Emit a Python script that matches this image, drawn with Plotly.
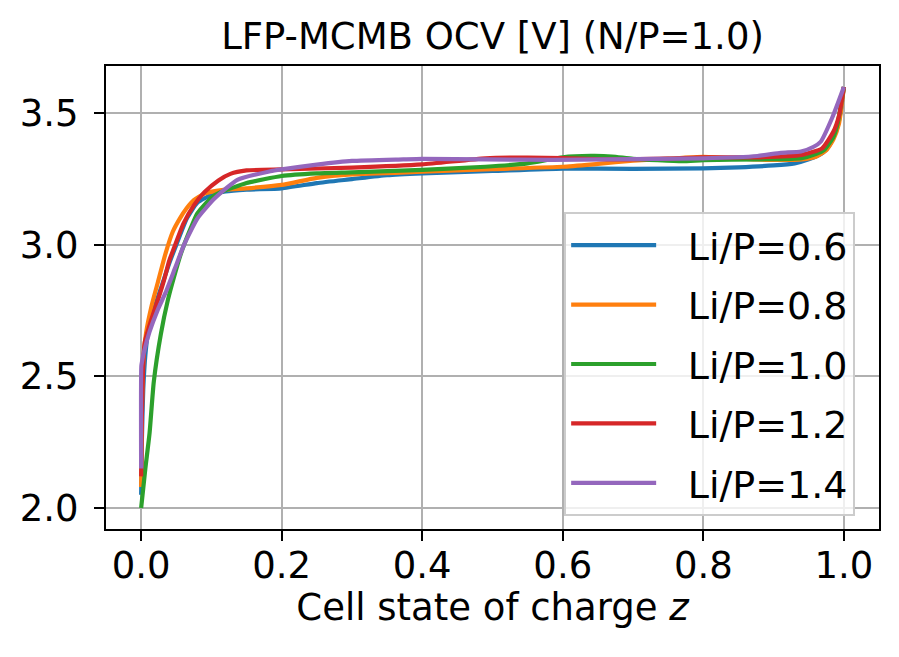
import plotly.graph_objects as go

# Li/P = 0.6
z_06 = [0, 0.001, 0.003, 0.006, 0.01, 0.02, 0.03, 0.04, 0.05, 0.065, 0.08, 0.1, 0.12, 0.15,
        0.2, 0.25, 0.3, 0.35, 0.4, 0.5, 0.6, 0.7, 0.8, 0.85, 0.9, 0.93, 0.95, 0.97, 0.98, 0.99, 0.995, 1.0]
v_06 = [2.05, 2.25, 2.45, 2.58, 2.67, 2.77, 2.85, 2.93, 3.0, 3.1, 3.16, 3.19, 3.203, 3.21,
        3.215, 3.235, 3.25, 3.265, 3.272, 3.281, 3.29, 3.289, 3.291, 3.295, 3.302, 3.31, 3.325, 3.35, 3.38, 3.44, 3.5, 3.6]

# Li/P = 0.8
z_08 = [0, 0.001, 0.003, 0.007, 0.015, 0.024, 0.035, 0.045, 0.055, 0.065, 0.075, 0.09, 0.12, 0.15, 0.2,
        0.25, 0.3, 0.4, 0.5, 0.6, 0.65, 0.7, 0.75, 0.8, 0.85, 0.9, 0.94, 0.96, 0.975, 0.985, 0.993, 1.0]
v_08 = [2.08, 2.35, 2.55, 2.665, 2.77, 2.86, 2.97, 3.05, 3.1, 3.14, 3.17, 3.195, 3.21, 3.215, 3.228,
        3.255, 3.268, 3.278, 3.288, 3.297, 3.308, 3.32, 3.328, 3.335, 3.328, 3.323, 3.325, 3.335, 3.36, 3.4, 3.46, 3.6]

# Li/P = 1.0
z_10 = [0, 0.006, 0.012, 0.018, 0.028, 0.038, 0.047, 0.057, 0.07, 0.08, 0.1, 0.113, 0.15, 0.2,
        0.25, 0.3, 0.4, 0.49, 0.55, 0.6, 0.64, 0.67, 0.7, 0.77, 0.8, 0.88, 0.94, 0.96, 0.972, 0.985, 0.991, 1.0]
v_10 = [2.0, 2.15, 2.285, 2.48, 2.66, 2.79, 2.88, 2.97, 3.06, 3.12, 3.18, 3.2, 3.235, 3.262,
        3.272, 3.276, 3.285, 3.297, 3.31, 3.333, 3.338, 3.336, 3.327, 3.318, 3.322, 3.325, 3.33, 3.345, 3.361, 3.41, 3.46, 3.6]

# Li/P = 1.2
z_12 = [0, 0.001, 0.003, 0.005, 0.015, 0.025, 0.033, 0.04, 0.047, 0.06, 0.075, 0.09, 0.11, 0.127, 0.15,
        0.2, 0.3, 0.4, 0.49, 0.55, 0.6, 0.67, 0.75, 0.8, 0.88, 0.94, 0.969, 0.985, 0.993, 1.0]
v_12 = [2.12, 2.35, 2.55, 2.628, 2.72, 2.8, 2.87, 2.94, 2.99, 3.08, 3.15, 3.2, 3.245, 3.27, 3.283,
        3.287, 3.294, 3.306, 3.329, 3.332, 3.33, 3.325, 3.328, 3.333, 3.333, 3.342, 3.367, 3.43, 3.49, 3.6]

# Li/P = 1.4
z_14 = [0, 0.0003, 0.0015, 0.0047, 0.012, 0.0236, 0.035, 0.048, 0.061, 0.08, 0.104, 0.137, 0.184, 0.2,
        0.25, 0.3, 0.373, 0.4, 0.49, 0.585, 0.665, 0.8, 0.877, 0.91, 0.939, 0.957, 0.967, 0.984, 1.0]
v_14 = [2.15, 2.54, 2.56, 2.6, 2.67, 2.753, 2.82, 2.91, 3.0, 3.1, 3.175, 3.247, 3.28, 3.287,
        3.305, 3.319, 3.325, 3.327, 3.325, 3.323, 3.325, 3.329, 3.338, 3.35, 3.355, 3.373, 3.392, 3.487, 3.6]

names = ['Li/P=0.6', 'Li/P=0.8', 'Li/P=1.0', 'Li/P=1.2', 'Li/P=1.4']
series_z = [z_06, z_08, z_10, z_12, z_14]
series_v = [v_06, v_08, v_10, v_12, v_14]
colors = ['#1f77b4', '#ff7f0e', '#2ca02c', '#d62728', '#9467bd']

FONT = 'DejaVu Sans'
GAP = '\u2002\u2009'  # extra room between legend line and label, like matplotlib

fig = go.Figure()
for name, z, v, c in zip(names, series_z, series_v, colors):
    fig.add_trace(go.Scatter(x=z, y=v, mode='lines', name=GAP + name, legendgroup=name,
                             line=dict(color=c, width=4.2, shape='spline', smoothing=0.5)))

axis_style = dict(showline=True, linecolor='black', linewidth=2.2, mirror=True,
                  ticks='outside', ticklen=10, tickwidth=2.2, tickcolor='black',
                  showgrid=True, gridcolor='#b0b0b0', gridwidth=2.2, zeroline=False,
                  tickfont=dict(family=FONT, size=37, color='black'))

# page body has an 8px margin, so the figure is 8px smaller and left/top margins shifted
fig.update_layout(
    width=891, height=649,
    plot_bgcolor='white', paper_bgcolor='white',
    font=dict(family=FONT, size=37, color='black'),
    margin=dict(l=93, r=20, t=58, b=128),
    title=dict(text='LFP-MCMB OCV [V] (N/P=1.0)', x=0.5, xref='paper',
               y=1 - 28 / 649, yref='container', yanchor='middle',
               font=dict(family=FONT, size=37, color='black')),
    xaxis=dict(range=[-0.05, 1.05], tickvals=[0, 0.2, 0.4, 0.6, 0.8, 1.0],
               ticktext=['0.0', '0.2', '0.4', '0.6', '0.8', '1.0'], ticklabelstandoff=-8,
               title=dict(text='Cell state of charge <i>z</i>', standoff=9,
                          font=dict(family=FONT, size=37)), **axis_style),
    yaxis=dict(range=[1.92, 3.68], tickvals=[2.0, 2.5, 3.0, 3.5],
               ticktext=['2.0', '2.5', '3.0', '3.5'], ticklabelstandoff=8, **axis_style),
    legend=dict(x=(855 - 101) / 778, xanchor='right', y=(529 - 212) / 463, yanchor='top',
                bgcolor='rgba(255,255,255,0.8)', bordercolor='#cccccc', borderwidth=2,
                font=dict(family=FONT, size=38), itemwidth=85, tracegroupgap=7),
    showlegend=True,
)

fig.write_html('out.html')
